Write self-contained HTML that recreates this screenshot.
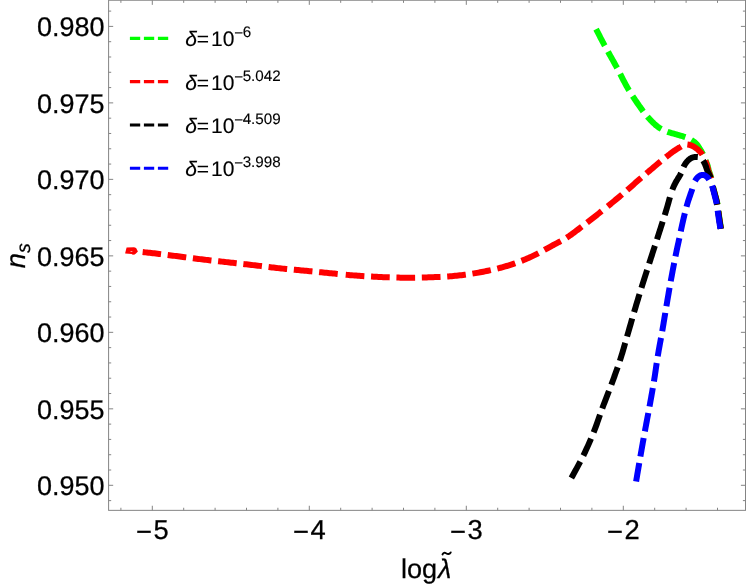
<!DOCTYPE html>
<html><head><meta charset="utf-8"><style>
html,body{margin:0;padding:0;background:#fff;}
svg{display:block;font-family:"Liberation Sans",sans-serif;text-rendering:geometricPrecision;will-change:transform;}
</style></head><body>
<svg width="747" height="585" viewBox="0 0 747 585">
<rect width="747" height="585" fill="#fff"/>
<g>
<path d="M595.50 28.00 L596.05 29.06 L596.59 30.10 L597.12 31.13 L597.65 32.16 L598.17 33.17 L598.69 34.19 L599.21 35.21 L599.74 36.23 L600.27 37.27 L600.81 38.31 L601.37 39.38 L601.94 40.47 L602.52 41.58 L603.12 42.72 L603.75 43.89 L604.40 45.10 L605.08 46.35 L605.78 47.63 L606.50 48.94 L607.24 50.28 L608.00 51.64 L608.77 53.02 L609.55 54.42 L610.34 55.84 L611.14 57.26 L611.95 58.70 L612.75 60.14 L613.55 61.58 L614.35 63.02 L615.14 64.46 L615.93 65.88 L616.70 67.30 L617.46 68.72 L618.22 70.14 L618.97 71.58 L619.71 73.02 L620.46 74.47 L621.20 75.92 L621.94 77.37 L622.69 78.82 L623.44 80.28 L624.19 81.72 L624.95 83.16 L625.72 84.59 L626.50 86.01 L627.28 87.42 L628.09 88.82 L628.90 90.20 L629.75 91.59 L630.64 93.02 L631.56 94.48 L632.52 95.95 L633.49 97.42 L634.47 98.90 L635.45 100.35 L636.43 101.79 L637.39 103.19 L638.33 104.54 L639.24 105.85 L640.11 107.08 L640.92 108.25 L641.68 109.33 L642.38 110.32 L643.00 111.20 L643.54 111.97 L644.02 112.63 L644.43 113.19 L644.79 113.66 L645.10 114.06 L645.36 114.40 L645.60 114.68 L645.81 114.92 L646.01 115.13 L646.19 115.32 L646.37 115.50 L646.56 115.69 L646.76 115.89 L646.97 116.12 L647.22 116.38 L647.50 116.70 L647.80 117.05 L648.11 117.40 L648.43 117.75 L648.75 118.11 L649.07 118.47 L649.39 118.83 L649.72 119.19 L650.05 119.54 L650.38 119.90 L650.71 120.25 L651.03 120.59 L651.35 120.93 L651.67 121.26 L651.99 121.58 L652.30 121.90 L652.60 122.20 L652.90 122.49 L653.19 122.78 L653.49 123.06 L653.78 123.34 L654.06 123.60 L654.35 123.87 L654.63 124.12 L654.91 124.38 L655.19 124.62 L655.47 124.86 L655.74 125.10 L656.02 125.33 L656.29 125.55 L656.56 125.77 L656.83 125.99 L657.10 126.20 L657.36 126.40 L657.62 126.60 L657.86 126.78 L658.10 126.96 L658.34 127.13 L658.57 127.30 L658.80 127.46 L659.04 127.62 L659.28 127.77 L659.52 127.93 L659.77 128.09 L660.03 128.24 L660.30 128.40 L660.58 128.56 L660.88 128.73 L661.20 128.90 L661.51 129.07 L661.80 129.24 L662.08 129.40 L662.35 129.55 L662.62 129.71 L662.90 129.87 L663.18 130.03 L663.49 130.19 L663.83 130.35 L664.20 130.53 L664.61 130.71 L665.06 130.90 L665.58 131.10 L666.15 131.32 L666.79 131.55 L667.50 131.80 L668.32 132.07 L669.25 132.36 L670.29 132.68 L671.41 133.01 L672.60 133.36 L673.84 133.72 L675.12 134.08 L676.41 134.45 L677.70 134.82 L678.97 135.18 L680.21 135.54 L681.40 135.89 L682.52 136.22 L683.55 136.54 L684.49 136.83 L685.30 137.10 L686.01 137.35 L686.64 137.57 L687.20 137.78 L687.69 137.97 L688.13 138.15 L688.53 138.31 L688.88 138.48 L689.20 138.63 L689.50 138.78 L689.77 138.94 L690.04 139.09 L690.31 139.25 L690.58 139.42 L690.86 139.60 L691.17 139.79 L691.50 140.00 L691.85 140.22 L692.19 140.44 L692.53 140.66 L692.86 140.89 L693.19 141.12 L693.52 141.36 L693.84 141.60 L694.16 141.84 L694.47 142.09 L694.77 142.35 L695.07 142.61 L695.37 142.88 L695.66 143.15 L695.95 143.43 L696.23 143.71 L696.50 144.00 L696.77 144.30 L697.03 144.61 L697.29 144.94 L697.54 145.27 L697.79 145.61 L698.03 145.96 L698.26 146.31 L698.49 146.66 L698.72 147.02 L698.94 147.37 L699.16 147.72 L699.38 148.07 L699.59 148.42 L699.79 148.75 L700.00 149.08 L700.20 149.40 L700.40 149.71 L700.59 150.00 L700.77 150.29 L700.95 150.57 L701.12 150.85 L701.29 151.12 L701.46 151.39 L701.62 151.66 L701.78 151.93 L701.94 152.20 L702.10 152.48 L702.26 152.76 L702.41 153.06 L702.57 153.36 L702.74 153.67 L702.90 154.00 L703.07 154.34 L703.23 154.70 L703.40 155.07 L703.57 155.45 L703.74 155.84 L703.91 156.23 L704.08 156.63 L704.25 157.03 L704.42 157.43 L704.58 157.83 L704.74 158.23 L704.90 158.62 L705.06 159.01 L705.21 159.38 L705.36 159.75 L705.50 160.10 L705.64 160.44 L705.77 160.76 L705.90 161.08 L706.03 161.38 L706.16 161.68 L706.28 161.98 L706.40 162.27 L706.51 162.56 L706.63 162.84 L706.74 163.13 L706.85 163.43 L706.96 163.73 L707.07 164.03 L707.18 164.34 L707.29 164.67 L707.40 165.00 L707.51 165.34 L707.61 165.69 L707.71 166.05 L707.81 166.41 L707.91 166.77 L708.00 167.14 L708.09 167.52 L708.19 167.89 L708.28 168.27 L708.38 168.66 L708.47 169.04 L708.57 169.43 L708.67 169.82 L708.78 170.21 L708.89 170.61 L709.00 171.00 L709.12 171.39 L709.24 171.78 L709.37 172.18 L709.50 172.57 L709.63 172.96 L709.77 173.36 L709.91 173.75 L710.04 174.16 L710.18 174.56 L710.32 174.97 L710.46 175.39 L710.59 175.82 L710.72 176.25 L710.85 176.69 L710.98 177.14 L711.10 177.60 L711.22 178.07 L711.32 178.54 L711.43 179.03 L711.53 179.51 L711.63 180.01 L711.72 180.51 L711.82 181.02 L711.91 181.53 L712.01 182.05 L712.11 182.58 L712.21 183.12 L712.23 183.21" fill="none" stroke="#00ff00" stroke-width="6" stroke-dasharray="18.7 6.7" stroke-dashoffset="24.04"/>
<path d="M712.23 183.21 L712.31 183.66 L712.43 184.21 L712.54 184.76 L712.67 185.33 L712.80 185.90 L712.94 186.49 L713.10 187.10 L713.26 187.72 L713.43 188.36 L713.60 189.02 L713.78 189.68 L713.96 190.34 L714.14 191.01 L714.33 191.68 L714.51 192.34 L714.69 192.99 L714.86 193.63 L715.04 194.25 L715.20 194.86 L715.35 195.44 L715.50 196.00 L715.64 196.53 L715.77 197.05 L715.90 197.54 L716.03 198.02 L716.15 198.48 L716.27 198.93 L716.39 199.38 L716.50 199.81 L716.61 200.24 L716.72 200.67 L716.82 201.10 L716.92 201.53 L717.02 201.96 L717.11 202.40 L717.21 202.84 L717.30 203.30 L717.39 203.76 L717.47 204.22 L717.55 204.67 L717.62 205.12 L717.69 205.57 L717.75 206.02 L717.82 206.48 L717.88 206.93 L717.94 207.39 L718.00 207.85 L718.06 208.32 L718.13 208.80 L718.19 209.29 L718.26 209.78 L718.33 210.28 L718.40 210.80 L718.48 211.33 L718.55 211.87 L718.63 212.43 L718.71 212.99 L718.79 213.56 L718.87 214.14 L718.95 214.73 L719.03 215.32 L719.11 215.91 L719.20 216.50 L719.28 217.10 L719.36 217.69 L719.45 218.28 L719.53 218.86 L719.62 219.43 L719.70 220.00 L719.78 220.56 L719.87 221.12 L719.96 221.67 L720.04 222.23 L720.13 222.78 L720.22 223.33 L720.31 223.88 L720.39 224.43 L720.48 224.97 L720.57 225.52 L720.66 226.06 L720.75 226.61 L720.84 227.16 L720.92 227.70 L721.01 228.25 L721.10 228.80" fill="none" stroke="#00ff00" stroke-width="6" stroke-dasharray="18.7 6.7" stroke-dashoffset="22.05"/>
<path d="M142.66 252.08 L144.06 252.23 L145.48 252.37 L146.93 252.52 L148.38 252.68 L149.84 252.84 L151.30 253.00 L152.78 253.17 L154.32 253.35 L155.89 253.54 L157.50 253.73 L159.15 253.93 L160.82 254.14 L162.52 254.35 L164.23 254.56 L165.96 254.78 L167.69 255.00 L169.43 255.22 L171.17 255.44 L172.90 255.66 L174.62 255.87 L176.32 256.09 L178.00 256.30 L179.67 256.51 L181.36 256.73 L183.05 256.94 L184.75 257.16 L186.46 257.38 L188.16 257.60 L189.86 257.82 L191.56 258.04 L193.25 258.26 L194.94 258.48 L196.61 258.69 L198.26 258.90 L199.90 259.11 L201.53 259.31 L203.12 259.51 L204.70 259.70 L206.24 259.88 L207.75 260.06 L209.23 260.23 L210.68 260.40 L212.12 260.56 L213.54 260.72 L214.95 260.87 L216.35 261.02 L217.75 261.18 L219.16 261.33 L220.58 261.48 L222.02 261.64 L223.47 261.80 L224.95 261.96 L226.46 262.13 L228.00 262.30 L229.58 262.48 L231.19 262.66 L232.82 262.84 L234.48 263.02 L236.15 263.21 L237.84 263.40 L239.54 263.58 L241.24 263.78 L242.95 263.97 L244.66 264.16 L246.37 264.35 L248.06 264.54 L249.75 264.73 L251.42 264.92 L253.07 265.11 L254.70 265.30 L256.31 265.49 L257.91 265.68 L259.49 265.87 L261.07 266.06 L262.64 266.26 L264.20 266.45 L265.76 266.64 L267.31 266.84 L268.85 267.03 L270.40 267.22 L271.94 267.41 L273.49 267.59 L275.04 267.77 L276.59 267.95 L278.14 268.13 L279.70 268.30 L281.26 268.47 L282.81 268.63 L284.36 268.78 L285.91 268.94 L287.46 269.09 L289.00 269.24 L290.55 269.38 L292.10 269.52 L293.65 269.67 L295.21 269.81 L296.77 269.96 L298.34 270.10 L299.91 270.25 L301.50 270.39 L303.09 270.55 L304.70 270.70 L306.32 270.86 L307.97 271.02 L309.63 271.18 L311.31 271.35 L313.00 271.51 L314.70 271.68 L316.40 271.85 L318.10 272.01 L319.80 272.18 L321.49 272.35 L323.17 272.51 L324.84 272.67 L326.49 272.83 L328.12 272.99 L329.72 273.15 L331.30 273.30 L332.85 273.45 L334.37 273.60 L335.86 273.75 L337.33 273.89 L338.79 274.04 L340.23 274.19 L341.66 274.33 L342.59 274.42" fill="none" stroke="#ff0000" stroke-width="6" stroke-dasharray="18.7 6.7" stroke-dashoffset="0.21"/>
<path d="M342.59 274.42 L343.08 274.47 L344.50 274.61 L345.93 274.74 L347.35 274.88 L348.79 275.01 L350.24 275.14 L351.71 275.26 L353.19 275.38 L354.70 275.50 L356.23 275.61 L357.77 275.73 L359.33 275.84 L360.90 275.94 L362.48 276.05 L364.06 276.15 L365.65 276.25 L367.25 276.34 L368.85 276.44 L370.45 276.53 L372.05 276.61 L373.65 276.70 L375.25 276.78 L376.84 276.86 L378.42 276.93 L380.00 277.00 L381.57 277.07 L383.14 277.13 L384.71 277.20 L386.27 277.26 L387.83 277.31 L389.40 277.37 L390.96 277.42 L392.52 277.47 L394.08 277.51 L395.64 277.55 L397.20 277.59 L398.76 277.62 L400.32 277.65 L401.88 277.67 L403.44 277.69 L405.00 277.70 L406.56 277.71 L408.11 277.71 L409.66 277.71 L411.21 277.71 L412.76 277.70 L414.30 277.68 L415.85 277.67 L417.39 277.64 L418.94 277.62 L420.50 277.59 L422.06 277.55 L423.63 277.51 L425.21 277.46 L426.79 277.41 L428.39 277.36 L430.00 277.30 L431.63 277.24 L433.27 277.17 L434.93 277.10 L436.60 277.03 L438.28 276.96 L439.96 276.88 L441.66 276.80 L443.35 276.71 L445.04 276.61 L446.74 276.51 L448.42 276.40 L450.10 276.28 L451.77 276.15 L453.43 276.01 L455.07 275.86 L456.70 275.70 L458.31 275.53 L459.91 275.35 L461.49 275.17 L463.07 274.98 L464.64 274.78 L466.20 274.57 L467.76 274.35 L469.31 274.12 L470.85 273.89 L472.40 273.65 L473.94 273.40 L475.49 273.14 L477.04 272.87 L478.59 272.59 L480.14 272.30 L481.70 272.00 L483.27 271.69 L484.84 271.38 L486.41 271.06 L487.99 270.73 L489.57 270.39 L491.15 270.04 L492.73 269.68 L494.31 269.31 L495.88 268.94 L497.45 268.55 L499.01 268.15 L500.57 267.74 L502.12 267.32 L503.66 266.89 L505.18 266.45 L506.70 266.00 L508.20 265.54 L509.69 265.07 L511.17 264.59 L512.64 264.10 L514.10 263.60 L515.56 263.09 L517.01 262.57 L518.45 262.04 L519.89 261.50 L521.33 260.94 L522.77 260.38 L524.21 259.79 L525.65 259.19 L527.09 258.58 L528.54 257.95 L530.00 257.30 L531.48 256.62 L532.99 255.90 L534.52 255.15 L536.08 254.36 L537.64 253.56 L539.21 252.74 L540.77 251.90 L542.32 251.07 L543.85 250.24 L545.35 249.41 L546.82 248.60 L548.25 247.81 L549.63 247.05 L550.95 246.33 L552.21 245.64 L553.40 245.00 L554.51 244.41 L555.54 243.86 L556.51 243.36 L557.42 242.88 L558.28 242.44 L559.10 242.01 L559.88 241.60 L560.64 241.20 L561.39 240.80 L562.12 240.40 L562.85 239.99 L563.59 239.57 L564.35 239.12 L565.13 238.65 L565.95 238.14 L566.80 237.60 L567.67 237.03 L568.54 236.45 L569.40 235.87 L570.26 235.27 L571.12 234.67 L571.98 234.05 L572.85 233.42 L573.73 232.77 L574.63 232.10 L575.53 231.42 L576.46 230.72 L577.41 230.00 L578.39 229.26 L579.40 228.50 L580.43 227.71 L581.50 226.90 L582.61 226.06 L583.75 225.18 L584.93 224.28 L586.15 223.34 L587.38 222.39 L588.64 221.41 L589.92 220.42 L591.21 219.41 L592.52 218.39 L593.83 217.36 L595.14 216.33 L596.45 215.29 L597.75 214.26 L599.05 213.23 L600.33 212.21 L601.60 211.20 L602.86 210.19 L604.05 209.24" fill="none" stroke="#ff0000" stroke-width="6" stroke-dasharray="18.7 6.7" stroke-dashoffset="22.26"/>
<path d="M604.05 209.24 L604.12 209.18 L605.39 208.17 L606.66 207.15 L607.93 206.12 L609.20 205.10 L610.47 204.07 L611.74 203.04 L613.00 202.01 L614.27 200.97 L615.52 199.94 L616.77 198.91 L618.02 197.88 L619.25 196.85 L620.48 195.82 L621.70 194.80 L622.91 193.78 L624.10 192.76 L625.28 191.74 L626.45 190.73 L627.61 189.71 L628.77 188.70 L629.92 187.68 L631.07 186.67 L632.22 185.65 L633.37 184.64 L634.52 183.62 L635.68 182.60 L636.85 181.58 L638.02 180.56 L639.20 179.53 L640.40 178.50 L641.62 177.46 L642.87 176.39 L644.14 175.30 L645.44 174.20 L646.74 173.09 L648.05 171.98 L649.36 170.87 L650.67 169.76 L651.96 168.67 L653.24 167.60 L654.49 166.54 L655.72 165.52 L656.91 164.53 L658.05 163.57 L659.15 162.66 L660.20 161.80 L661.20 160.98 L662.17 160.19 L663.11 159.42 L664.01 158.69 L664.89 157.98 L665.74 157.30 L666.56 156.64 L667.36 156.01 L668.13 155.40 L668.88 154.82 L669.61 154.25 L670.32 153.70 L671.02 153.18 L671.69 152.67 L672.35 152.18 L673.00 151.70 L673.63 151.25 L674.23 150.82 L674.82 150.42 L675.38 150.04 L675.91 149.69 L676.43 149.36 L676.93 149.05 L677.41 148.75 L677.88 148.47 L678.32 148.20 L678.75 147.95 L679.17 147.71 L679.57 147.47 L679.96 147.24 L680.34 147.02 L680.70 146.80 L681.05 146.59 L681.37 146.39 L681.66 146.21 L681.94 146.03 L682.20 145.87 L682.44 145.72 L682.66 145.59 L682.88 145.46 L683.09 145.34 L683.29 145.23 L683.49 145.12 L683.68 145.03 L683.88 144.94 L684.08 144.85 L684.29 144.77 L684.50 144.70 L684.71 144.63 L684.92 144.57 L685.11 144.52 L685.30 144.48 L685.49 144.44 L685.67 144.41 L685.86 144.39 L686.04 144.38 L686.22 144.37 L686.41 144.37 L686.60 144.37 L686.80 144.39 L687.01 144.41 L687.23 144.43 L687.46 144.46 L687.70 144.50 L687.96 144.54 L688.22 144.59 L688.50 144.65 L688.78 144.71 L689.08 144.78 L689.37 144.86 L689.68 144.94 L689.99 145.03 L690.30 145.13 L690.62 145.23 L690.93 145.34 L691.25 145.46 L691.56 145.58 L691.88 145.71 L692.19 145.85 L692.50 146.00 L692.81 146.15 L693.12 146.31 L693.43 146.48 L693.74 146.65 L694.05 146.83 L694.36 147.02 L694.68 147.21 L694.99 147.41 L695.31 147.62 L695.62 147.84 L695.94 148.06 L696.25 148.29 L696.57 148.53 L696.88 148.78 L697.19 149.04 L697.50 149.30 L697.81 149.58 L698.13 149.87 L698.46 150.17 L698.79 150.48 L699.12 150.80 L699.45 151.13 L699.77 151.47 L700.10 151.81 L700.42 152.16 L700.74 152.51 L701.04 152.86 L701.34 153.21 L701.63 153.57 L701.90 153.91 L702.16 154.26 L702.40 154.60 L702.63 154.94 L702.84 155.28 L703.04 155.63 L703.23 155.97 L703.41 156.32 L703.57 156.67 L703.73 157.02 L703.89 157.37 L704.03 157.72 L704.18 158.07 L704.32 158.42 L704.45 158.76 L704.59 159.10 L704.72 159.44 L704.86 159.77 L705.00 160.10 L705.14 160.42 L705.27 160.73 L705.40 161.04 L705.53 161.34 L705.66 161.64 L705.78 161.93 L705.90 162.23 L706.01 162.52 L706.13 162.81 L706.24 163.11 L706.35 163.41 L706.46 163.71 L706.57 164.02 L706.68 164.34 L706.79 164.66 L706.90 165.00 L707.01 165.34 L707.11 165.69 L707.21 166.05 L707.31 166.41 L707.40 166.77 L707.50 167.14 L707.59 167.52 L707.68 167.89 L707.77 168.27 L707.87 168.66 L707.97 169.04 L708.06 169.43 L708.17 169.82 L708.27 170.21 L708.38 170.61 L708.50 171.00 L708.62 171.39 L708.75 171.78 L708.88 172.18 L709.01 172.57 L709.15 172.96 L709.29 173.36 L709.44 173.75 L709.58 174.16 L709.73 174.56 L709.87 174.97 L710.01 175.39 L710.16 175.82 L710.30 176.25 L710.44 176.69 L710.57 177.14 L710.70 177.60 L710.83 178.07 L710.95 178.54 L711.06 179.03 L711.18 179.51 L711.29 180.01 L711.40 180.51 L711.51 181.02 L711.62 181.53 L711.73 182.05 L711.84 182.58 L711.96 183.12 L711.98 183.23" fill="none" stroke="#ff0000" stroke-width="6" stroke-dasharray="18.7 6.7" stroke-dashoffset="20.77"/>
<path d="M711.98 183.23 L712.08 183.66 L712.20 184.21 L712.33 184.76 L712.46 185.33 L712.60 185.90 L712.75 186.49 L712.91 187.10 L713.07 187.72 L713.24 188.36 L713.41 189.02 L713.59 189.68 L713.77 190.34 L713.96 191.01 L714.14 191.68 L714.32 192.34 L714.50 192.99 L714.67 193.63 L714.84 194.25 L715.00 194.86 L715.15 195.44 L715.30 196.00 L715.44 196.53 L715.57 197.05 L715.70 197.54 L715.83 198.02 L715.95 198.48 L716.07 198.93 L716.19 199.38 L716.30 199.81 L716.41 200.24 L716.52 200.67 L716.62 201.10 L716.72 201.53 L716.82 201.96 L716.91 202.40 L717.01 202.84 L717.10 203.30 L717.19 203.76 L717.27 204.22 L717.35 204.67 L717.42 205.12 L717.49 205.57 L717.55 206.02 L717.62 206.48 L717.68 206.93 L717.74 207.39 L717.80 207.85 L717.86 208.32 L717.93 208.80 L717.99 209.29 L718.06 209.78 L718.13 210.28 L718.20 210.80 L718.28 211.33 L718.35 211.87 L718.43 212.43 L718.51 212.99 L718.59 213.56 L718.67 214.14 L718.75 214.73 L718.83 215.32 L718.91 215.91 L719.00 216.50 L719.08 217.10 L719.16 217.69 L719.25 218.28 L719.33 218.86 L719.42 219.43 L719.50 220.00 L719.58 220.56 L719.67 221.12 L719.76 221.67 L719.84 222.23 L719.93 222.78 L720.02 223.33 L720.11 223.88 L720.19 224.43 L720.28 224.97 L720.37 225.52 L720.46 226.06 L720.55 226.61 L720.64 227.16 L720.72 227.70 L720.81 228.25 L720.90 228.80" fill="none" stroke="#ff0000" stroke-width="6" stroke-dasharray="18.7 6.7" stroke-dashoffset="22.05"/>
<path d="M125.2 252.9L126.6 247.4L134.1 247.2L136.1 248L137.9 251.4L135.7 253.7L134.1 254.7L132.1 254.5L131.7 254.1L125.2 253.5ZM130.5 251.1L132.4 251.4L132.4 252L130.7 251.7Z" fill="#ff0000" fill-rule="evenodd"/>
<path d="M570.90 478.90 L571.69 477.43 L572.49 475.95 L573.29 474.48 L574.10 473.01 L574.91 471.54 L575.72 470.06 L576.53 468.59 L577.33 467.12 L578.13 465.65 L578.93 464.17 L579.72 462.70 L580.50 461.22 L581.27 459.74 L582.03 458.26 L582.77 456.78 L583.50 455.30 L584.22 453.81 L584.93 452.33 L585.62 450.84 L586.31 449.35 L587.00 447.86 L587.67 446.37 L588.34 444.88 L588.99 443.38 L589.64 441.89 L590.29 440.39 L590.92 438.89 L591.55 437.40 L592.17 435.90 L592.79 434.40 L593.40 432.90 L594.00 431.40 L594.59 429.90 L595.17 428.40 L595.74 426.89 L596.29 425.38 L596.84 423.87 L597.38 422.36 L597.91 420.85 L598.44 419.34 L598.96 417.83 L599.49 416.32 L600.01 414.82 L600.54 413.31 L601.07 411.80 L601.61 410.30 L602.15 408.80 L602.70 407.30 L603.26 405.81 L603.82 404.31 L604.39 402.83 L604.96 401.34 L605.53 399.86 L606.11 398.38 L606.68 396.90 L607.26 395.42 L607.83 393.94 L608.41 392.46 L608.98 390.97 L609.55 389.49 L610.12 388.00 L610.68 386.50 L611.24 385.00 L611.80 383.50 L612.35 381.99 L612.91 380.47 L613.47 378.94 L614.03 377.41 L614.58 375.88 L615.14 374.34 L615.69 372.80 L616.24 371.26 L616.79 369.72 L617.33 368.18 L617.86 366.65 L618.39 365.12 L618.91 363.60 L619.41 362.09 L619.91 360.59 L620.40 359.10 L620.87 357.62 L621.33 356.16 L621.78 354.71 L622.22 353.27 L622.65 351.84 L623.07 350.41 L623.48 348.98 L623.89 347.56 L624.30 346.14 L624.71 344.72 L625.11 343.29 L625.52 341.85 L625.93 340.41 L626.35 338.95 L626.77 337.48 L627.20 336.00 L627.63 334.50 L628.07 333.00 L628.51 331.48 L628.94 329.96 L629.38 328.43 L629.82 326.89 L630.26 325.35 L630.71 323.80 L631.15 322.25 L631.60 320.70 L632.04 319.15 L632.49 317.59 L632.94 316.04 L633.39 314.49 L633.84 312.94 L634.30 311.40 L634.76 309.86 L635.22 308.31 L635.68 306.77 L636.14 305.22 L636.61 303.67 L637.07 302.12 L637.54 300.57 L638.01 299.02 L638.48 297.48 L638.96 295.93 L639.43 294.39 L639.90 292.84 L640.38 291.30 L640.85 289.76 L641.33 288.23 L641.80 286.70 L642.28 285.17 L642.75 283.65 L643.23 282.13 L643.71 280.62 L644.18 279.11 L644.66 277.60 L645.14 276.09 L645.62 274.58 L646.11 273.07 L646.59 271.57 L647.07 270.06 L647.56 268.55 L648.04 267.04 L648.53 265.53 L649.01 264.02 L649.50 262.50 L649.99 260.98 L650.48 259.47 L650.96 257.96 L651.45 256.45 L651.94 254.95 L652.43 253.44 L652.92 251.93 L653.41 250.42 L653.91 248.90 L654.40 247.38 L654.89 245.86 L655.39 244.32 L655.89 242.78 L656.39 241.23 L656.89 239.67 L657.40 238.10 L657.91 236.51 L658.43 234.90 L658.95 233.28 L659.47 231.64 L660.00 229.99 L660.53 228.33 L661.06 226.67 L661.59 225.01 L662.12 223.34 L662.65 221.69 L663.17 220.04 L663.69 218.40 L664.21 216.77 L664.71 215.16 L665.21 213.57 L665.70 212.00 L666.18 210.44 L666.65 208.86 L667.11 207.28 L667.56 205.70 L668.00 204.12 L668.45 202.55 L668.88 200.99 L669.32 199.44 L669.75 197.92 L670.19 196.43 L670.63 194.97 L671.07 193.54 L671.52 192.16 L671.76 191.45" fill="none" stroke="#000000" stroke-width="6" stroke-dasharray="18.7 6.7" stroke-dashoffset="24.39"/>
<path d="M671.76 191.45 L671.97 190.82 L672.43 189.53 L672.90 188.30 L673.39 187.12 L673.89 185.98 L674.42 184.88 L674.95 183.81 L675.50 182.79 L676.04 181.80 L676.59 180.84 L677.14 179.92 L677.68 179.03 L678.20 178.16 L678.71 177.32 L679.20 176.51 L679.67 175.73 L680.11 174.96 L680.52 174.22 L680.90 173.50 L681.24 172.81 L681.54 172.15 L681.82 171.54 L682.07 170.95 L682.29 170.40 L682.50 169.87 L682.69 169.37 L682.87 168.89 L683.04 168.43 L683.21 167.98 L683.37 167.55 L683.54 167.13 L683.71 166.72 L683.89 166.31 L684.09 165.91 L684.30 165.50 L684.52 165.10 L684.74 164.72 L684.97 164.35 L685.19 163.99 L685.41 163.65 L685.64 163.31 L685.87 162.99 L686.09 162.68 L686.32 162.38 L686.56 162.09 L686.79 161.81 L687.03 161.53 L687.26 161.26 L687.51 161.00 L687.75 160.75 L688.00 160.50 L688.25 160.26 L688.50 160.02 L688.75 159.79 L689.01 159.58 L689.27 159.36 L689.52 159.16 L689.79 158.97 L690.05 158.78 L690.32 158.60 L690.59 158.43 L690.86 158.27 L691.14 158.12 L691.42 157.98 L691.71 157.84 L692.00 157.72 L692.30 157.60 L692.61 157.49 L692.93 157.39 L693.27 157.31 L693.61 157.23 L693.96 157.16 L694.32 157.10 L694.68 157.04 L695.04 157.00 L695.39 156.96 L695.74 156.93 L696.09 156.91 L696.42 156.90 L696.74 156.89 L697.05 156.89 L697.33 156.89 L697.60 156.90 L697.85 156.92 L698.08 156.94 L698.30 156.97 L698.50 157.02 L698.70 157.06 L698.88 157.12 L699.06 157.18 L699.23 157.25 L699.39 157.32 L699.55 157.41 L699.70 157.49 L699.86 157.58 L700.02 157.68 L700.17 157.78 L700.33 157.89 L700.50 158.00 L700.67 158.11 L700.83 158.23 L701.00 158.35 L701.16 158.48 L701.32 158.61 L701.48 158.75 L701.63 158.89 L701.79 159.04 L701.94 159.19 L702.09 159.35 L702.25 159.52 L702.40 159.70 L702.55 159.89 L702.70 160.08 L702.85 160.29 L703.00 160.50 L703.15 160.72 L703.30 160.96 L703.45 161.20 L703.59 161.45 L703.74 161.71 L703.88 161.98 L704.03 162.25 L704.17 162.53 L704.31 162.82 L704.45 163.11 L704.60 163.42 L704.74 163.72 L704.88 164.03 L705.02 164.35 L705.16 164.67 L705.30 165.00 L705.44 165.33 L705.57 165.67 L705.71 166.02 L705.84 166.38 L705.97 166.74 L706.10 167.11 L706.23 167.49 L706.36 167.87 L706.49 168.25 L706.62 168.64 L706.76 169.03 L706.90 169.42 L707.04 169.82 L707.19 170.21 L707.34 170.61 L707.50 171.00 L707.67 171.39 L707.84 171.78 L708.03 172.18 L708.22 172.57 L708.41 172.96 L708.61 173.36 L708.81 173.75 L709.01 174.16 L709.21 174.56 L709.41 174.97 L709.61 175.39 L709.80 175.82 L709.99 176.25 L710.17 176.69 L710.34 177.14 L710.50 177.60 L710.65 178.07 L710.79 178.54 L710.93 179.03 L711.05 179.51 L711.18 180.01 L711.29 180.51 L711.41 181.02 L711.52 181.53 L711.63 182.05 L711.74 182.58 L711.86 183.12 L711.88 183.23" fill="none" stroke="#000000" stroke-width="6" stroke-dasharray="18.7 6.7" stroke-dashoffset="23.55"/>
<path d="M711.88 183.23 L711.97 183.66 L712.10 184.21 L712.22 184.76 L712.36 185.33 L712.50 185.90 L712.65 186.49 L712.81 187.10 L712.98 187.72 L713.15 188.36 L713.32 189.02 L713.50 189.68 L713.68 190.34 L713.86 191.01 L714.04 191.68 L714.22 192.34 L714.40 192.99 L714.57 193.63 L714.74 194.25 L714.90 194.86 L715.05 195.44 L715.20 196.00 L715.34 196.53 L715.47 197.05 L715.60 197.54 L715.73 198.02 L715.85 198.48 L715.97 198.93 L716.09 199.38 L716.20 199.81 L716.31 200.24 L716.42 200.67 L716.52 201.10 L716.62 201.53 L716.72 201.96 L716.81 202.40 L716.91 202.84 L717.00 203.30 L717.09 203.76 L717.17 204.22 L717.25 204.67 L717.32 205.12 L717.39 205.57 L717.45 206.02 L717.52 206.48 L717.58 206.93 L717.64 207.39 L717.70 207.85 L717.76 208.32 L717.83 208.80 L717.89 209.29 L717.96 209.78 L718.03 210.28 L718.10 210.80 L718.18 211.33 L718.25 211.87 L718.33 212.43 L718.41 212.99 L718.49 213.56 L718.57 214.14 L718.65 214.73 L718.73 215.32 L718.81 215.91 L718.90 216.50 L718.98 217.10 L719.06 217.69 L719.15 218.28 L719.23 218.86 L719.32 219.43 L719.40 220.00 L719.48 220.56 L719.57 221.12 L719.66 221.67 L719.74 222.23 L719.83 222.78 L719.92 223.33 L720.01 223.88 L720.09 224.43 L720.18 224.97 L720.27 225.52 L720.36 226.06 L720.45 226.61 L720.54 227.16 L720.62 227.70 L720.71 228.25 L720.80 228.80" fill="none" stroke="#000000" stroke-width="6" stroke-dasharray="18.7 6.7" stroke-dashoffset="22.05"/>
<path d="M636.00 482.10 L636.28 480.46 L636.56 478.81 L636.84 477.16 L637.12 475.51 L637.40 473.86 L637.68 472.21 L637.96 470.56 L638.24 468.91 L638.52 467.26 L638.81 465.62 L639.09 463.97 L639.37 462.33 L639.65 460.69 L639.93 459.06 L640.22 457.43 L640.50 455.80 L640.78 454.18 L641.07 452.55 L641.36 450.93 L641.64 449.31 L641.93 447.69 L642.22 446.07 L642.51 444.46 L642.79 442.84 L643.08 441.24 L643.37 439.63 L643.66 438.03 L643.95 436.43 L644.24 434.84 L644.52 433.26 L644.81 431.67 L645.10 430.10 L645.39 428.53 L645.68 426.98 L645.97 425.43 L646.25 423.88 L646.54 422.35 L646.83 420.82 L647.12 419.29 L647.41 417.76 L647.70 416.24 L647.99 414.71 L648.28 413.19 L648.56 411.66 L648.85 410.13 L649.13 408.59 L649.42 407.05 L649.70 405.50 L649.98 403.94 L650.26 402.39 L650.55 400.82 L650.83 399.26 L651.11 397.69 L651.39 396.12 L651.67 394.55 L651.95 392.98 L652.23 391.41 L652.50 389.83 L652.78 388.26 L653.05 386.69 L653.31 385.11 L653.58 383.54 L653.84 381.97 L654.10 380.40 L654.35 378.83 L654.60 377.26 L654.84 375.69 L655.08 374.12 L655.31 372.56 L655.54 370.99 L655.77 369.42 L655.99 367.85 L656.22 366.28 L656.45 364.71 L656.68 363.14 L656.91 361.57 L657.15 360.01 L657.40 358.44 L657.64 356.87 L657.90 355.30 L658.16 353.73 L658.43 352.16 L658.70 350.60 L658.98 349.03 L659.26 347.46 L659.55 345.89 L659.84 344.32 L660.12 342.76 L660.41 341.19 L660.70 339.62 L660.99 338.05 L661.28 336.48 L661.56 334.91 L661.85 333.34 L662.13 331.77 L662.40 330.20 L662.67 328.63 L662.94 327.05 L663.20 325.47 L663.47 323.90 L663.73 322.32 L663.99 320.74 L664.25 319.16 L664.51 317.58 L664.77 316.00 L665.03 314.42 L665.29 312.84 L665.55 311.27 L665.81 309.70 L666.07 308.13 L666.34 306.56 L666.60 305.00 L666.87 303.44 L667.13 301.89 L667.39 300.34 L667.66 298.79 L667.92 297.24 L668.19 295.70 L668.45 294.15 L668.72 292.61 L668.99 291.07 L669.25 289.53 L669.52 287.99 L669.79 286.46 L670.07 284.92 L670.34 283.38 L670.62 281.84 L670.90 280.30 L671.18 278.75 L671.47 277.18 L671.77 275.59 L672.07 273.99 L672.37 272.39 L672.67 270.79 L672.97 269.19 L673.27 267.59 L673.58 266.01 L673.88 264.45 L674.18 262.91 L674.47 261.40 L674.76 259.91 L675.05 258.47 L675.33 257.06 L675.60 255.70 L675.87 254.38 L676.13 253.11 L676.39 251.87 L676.64 250.66 L676.89 249.48 L677.14 248.33 L677.38 247.20 L677.62 246.09 L677.86 245.00 L678.10 243.92 L678.34 242.85 L678.57 241.78 L678.80 240.72 L679.04 239.65 L679.27 238.58 L679.50 237.50 L679.73 236.42 L679.95 235.36 L680.17 234.31 L680.38 233.27 L680.60 232.23 L680.81 231.21 L681.02 230.19 L681.23 229.18 L681.43 228.16 L681.65 227.15 L681.86 226.14 L682.08 225.12 L682.30 224.10 L682.53 223.07 L682.76 222.04 L683.00 221.00 L683.25 219.95 L683.49 218.89 L683.75 217.81 L684.00 216.74 L684.26 215.66 L684.52 214.57 L684.79 213.49 L685.06 212.41 L685.33 211.33 L685.60 210.25 L685.88 209.18 L686.16 208.12 L686.44 207.07 L686.72 206.03 L687.01 205.01 L687.30 204.00 L687.60 202.99 L687.91 201.98 L688.23 200.96 L688.55 199.95 L688.89 198.93 L689.22 197.92 L689.56 196.92 L689.90 195.94 L690.23 194.97 L690.56 194.02 L690.88 193.10 L691.20 192.21 L691.49 191.35 L691.78 190.53 L692.05 189.74 L692.30 189.00 L692.53 188.30 L692.74 187.64 L692.93 187.02 L693.11 186.43 L693.28 185.87 L693.43 185.34 L693.58 184.84 L693.72 184.36 L693.87 183.89 L694.01 183.45 L694.06 183.29" fill="none" stroke="#0000ff" stroke-width="6" stroke-dasharray="18.7 6.7" stroke-dashoffset="24.75"/>
<path d="M694.06 183.29 L694.15 183.02 L694.30 182.60 L694.46 182.20 L694.63 181.79 L694.81 181.40 L695.00 181.00 L695.21 180.61 L695.42 180.23 L695.64 179.87 L695.86 179.52 L696.09 179.18 L696.33 178.85 L696.56 178.54 L696.81 178.24 L697.05 177.95 L697.30 177.68 L697.55 177.41 L697.80 177.17 L698.05 176.93 L698.30 176.71 L698.55 176.50 L698.80 176.30 L699.05 176.12 L699.31 175.95 L699.57 175.79 L699.84 175.65 L700.11 175.52 L700.38 175.40 L700.65 175.30 L700.92 175.21 L701.19 175.13 L701.46 175.06 L701.73 175.01 L701.99 174.96 L702.25 174.93 L702.51 174.91 L702.76 174.90 L703.00 174.90 L703.24 174.92 L703.48 174.95 L703.72 175.00 L703.95 175.06 L704.19 175.14 L704.42 175.23 L704.64 175.33 L704.87 175.44 L705.09 175.56 L705.31 175.68 L705.52 175.81 L705.73 175.95 L705.93 176.08 L706.12 176.22 L706.32 176.36 L706.50 176.50 L706.67 176.64 L706.84 176.77 L706.99 176.90 L707.14 177.03 L707.27 177.16 L707.41 177.30 L707.54 177.44 L707.66 177.59 L707.79 177.75 L707.92 177.92 L708.05 178.10 L708.18 178.30 L708.32 178.52 L708.47 178.76 L708.63 179.02 L708.80 179.30 L708.98 179.60 L709.17 179.92 L709.37 180.25 L709.57 180.60 L709.78 180.96 L709.99 181.34 L710.21 181.74 L710.42 182.14 L710.64 182.57 L710.86 183.00 L711.08 183.45 L711.29 183.91 L711.50 184.39 L711.71 184.88 L711.91 185.38 L712.10 185.90 L712.29 186.44 L712.47 187.01 L712.66 187.62 L712.84 188.24 L713.02 188.89 L713.20 189.55 L713.37 190.23 L713.54 190.91 L713.71 191.59 L713.88 192.26 L714.04 192.93 L714.20 193.59 L714.36 194.23 L714.51 194.85 L714.66 195.44 L714.80 196.00 L714.94 196.53 L715.07 197.05 L715.20 197.54 L715.33 198.02 L715.45 198.48 L715.57 198.93 L715.69 199.38 L715.80 199.81 L715.91 200.24 L716.02 200.67 L716.12 201.10 L716.22 201.53 L716.32 201.96 L716.41 202.40 L716.51 202.84 L716.60 203.30 L716.69 203.76 L716.77 204.22 L716.85 204.67 L716.92 205.12 L716.99 205.57 L717.05 206.02 L717.12 206.48 L717.18 206.93 L717.24 207.39 L717.30 207.85 L717.36 208.32 L717.43 208.80 L717.49 209.29 L717.56 209.78 L717.63 210.28 L717.70 210.80 L717.78 211.33 L717.85 211.87 L717.93 212.43 L718.01 212.99 L718.09 213.56 L718.17 214.14 L718.25 214.73 L718.33 215.32 L718.41 215.91 L718.50 216.50 L718.58 217.10 L718.66 217.69 L718.75 218.28 L718.83 218.86 L718.92 219.43 L719.00 220.00 L719.08 220.56 L719.17 221.12 L719.26 221.67 L719.34 222.23 L719.43 222.78 L719.52 223.33 L719.61 223.88 L719.69 224.43 L719.78 224.97 L719.87 225.52 L719.96 226.06 L720.05 226.61 L720.14 227.16 L720.22 227.70 L720.31 228.25 L720.40 228.80" fill="none" stroke="#0000ff" stroke-width="6" stroke-dasharray="18.7 6.7" stroke-dashoffset="22.88"/>
</g>
<g stroke="#848484" stroke-width="1" fill="none">
<rect x="108.60" y="0.25" width="636.90" height="510.10"/>
<line x1="120.90" y1="510.35" x2="120.90" y2="507.75"/>
<line x1="120.90" y1="0.25" x2="120.90" y2="2.85"/>
<line x1="152.30" y1="510.35" x2="152.30" y2="505.75"/>
<line x1="152.30" y1="0.25" x2="152.30" y2="4.85"/>
<line x1="183.70" y1="510.35" x2="183.70" y2="507.75"/>
<line x1="183.70" y1="0.25" x2="183.70" y2="2.85"/>
<line x1="215.10" y1="510.35" x2="215.10" y2="507.75"/>
<line x1="215.10" y1="0.25" x2="215.10" y2="2.85"/>
<line x1="246.50" y1="510.35" x2="246.50" y2="507.75"/>
<line x1="246.50" y1="0.25" x2="246.50" y2="2.85"/>
<line x1="277.90" y1="510.35" x2="277.90" y2="507.75"/>
<line x1="277.90" y1="0.25" x2="277.90" y2="2.85"/>
<line x1="309.30" y1="510.35" x2="309.30" y2="505.75"/>
<line x1="309.30" y1="0.25" x2="309.30" y2="4.85"/>
<line x1="340.70" y1="510.35" x2="340.70" y2="507.75"/>
<line x1="340.70" y1="0.25" x2="340.70" y2="2.85"/>
<line x1="372.10" y1="510.35" x2="372.10" y2="507.75"/>
<line x1="372.10" y1="0.25" x2="372.10" y2="2.85"/>
<line x1="403.50" y1="510.35" x2="403.50" y2="507.75"/>
<line x1="403.50" y1="0.25" x2="403.50" y2="2.85"/>
<line x1="434.90" y1="510.35" x2="434.90" y2="507.75"/>
<line x1="434.90" y1="0.25" x2="434.90" y2="2.85"/>
<line x1="466.30" y1="510.35" x2="466.30" y2="505.75"/>
<line x1="466.30" y1="0.25" x2="466.30" y2="4.85"/>
<line x1="497.70" y1="510.35" x2="497.70" y2="507.75"/>
<line x1="497.70" y1="0.25" x2="497.70" y2="2.85"/>
<line x1="529.10" y1="510.35" x2="529.10" y2="507.75"/>
<line x1="529.10" y1="0.25" x2="529.10" y2="2.85"/>
<line x1="560.50" y1="510.35" x2="560.50" y2="507.75"/>
<line x1="560.50" y1="0.25" x2="560.50" y2="2.85"/>
<line x1="591.90" y1="510.35" x2="591.90" y2="507.75"/>
<line x1="591.90" y1="0.25" x2="591.90" y2="2.85"/>
<line x1="623.30" y1="510.35" x2="623.30" y2="505.75"/>
<line x1="623.30" y1="0.25" x2="623.30" y2="4.85"/>
<line x1="654.70" y1="510.35" x2="654.70" y2="507.75"/>
<line x1="654.70" y1="0.25" x2="654.70" y2="2.85"/>
<line x1="686.10" y1="510.35" x2="686.10" y2="507.75"/>
<line x1="686.10" y1="0.25" x2="686.10" y2="2.85"/>
<line x1="717.50" y1="510.35" x2="717.50" y2="507.75"/>
<line x1="717.50" y1="0.25" x2="717.50" y2="2.85"/>
<line x1="108.60" y1="500.61" x2="111.20" y2="500.61"/>
<line x1="745.50" y1="500.61" x2="742.90" y2="500.61"/>
<line x1="108.60" y1="485.31" x2="113.20" y2="485.31"/>
<line x1="745.50" y1="485.31" x2="740.90" y2="485.31"/>
<line x1="108.60" y1="470.01" x2="111.20" y2="470.01"/>
<line x1="745.50" y1="470.01" x2="742.90" y2="470.01"/>
<line x1="108.60" y1="454.72" x2="111.20" y2="454.72"/>
<line x1="745.50" y1="454.72" x2="742.90" y2="454.72"/>
<line x1="108.60" y1="439.42" x2="111.20" y2="439.42"/>
<line x1="745.50" y1="439.42" x2="742.90" y2="439.42"/>
<line x1="108.60" y1="424.12" x2="111.20" y2="424.12"/>
<line x1="745.50" y1="424.12" x2="742.90" y2="424.12"/>
<line x1="108.60" y1="408.83" x2="113.20" y2="408.83"/>
<line x1="745.50" y1="408.83" x2="740.90" y2="408.83"/>
<line x1="108.60" y1="393.53" x2="111.20" y2="393.53"/>
<line x1="745.50" y1="393.53" x2="742.90" y2="393.53"/>
<line x1="108.60" y1="378.23" x2="111.20" y2="378.23"/>
<line x1="745.50" y1="378.23" x2="742.90" y2="378.23"/>
<line x1="108.60" y1="362.93" x2="111.20" y2="362.93"/>
<line x1="745.50" y1="362.93" x2="742.90" y2="362.93"/>
<line x1="108.60" y1="347.64" x2="111.20" y2="347.64"/>
<line x1="745.50" y1="347.64" x2="742.90" y2="347.64"/>
<line x1="108.60" y1="332.34" x2="113.20" y2="332.34"/>
<line x1="745.50" y1="332.34" x2="740.90" y2="332.34"/>
<line x1="108.60" y1="317.04" x2="111.20" y2="317.04"/>
<line x1="745.50" y1="317.04" x2="742.90" y2="317.04"/>
<line x1="108.60" y1="301.75" x2="111.20" y2="301.75"/>
<line x1="745.50" y1="301.75" x2="742.90" y2="301.75"/>
<line x1="108.60" y1="286.45" x2="111.20" y2="286.45"/>
<line x1="745.50" y1="286.45" x2="742.90" y2="286.45"/>
<line x1="108.60" y1="271.15" x2="111.20" y2="271.15"/>
<line x1="745.50" y1="271.15" x2="742.90" y2="271.15"/>
<line x1="108.60" y1="255.86" x2="113.20" y2="255.86"/>
<line x1="745.50" y1="255.86" x2="740.90" y2="255.86"/>
<line x1="108.60" y1="240.56" x2="111.20" y2="240.56"/>
<line x1="745.50" y1="240.56" x2="742.90" y2="240.56"/>
<line x1="108.60" y1="225.26" x2="111.20" y2="225.26"/>
<line x1="745.50" y1="225.26" x2="742.90" y2="225.26"/>
<line x1="108.60" y1="209.96" x2="111.20" y2="209.96"/>
<line x1="745.50" y1="209.96" x2="742.90" y2="209.96"/>
<line x1="108.60" y1="194.67" x2="111.20" y2="194.67"/>
<line x1="745.50" y1="194.67" x2="742.90" y2="194.67"/>
<line x1="108.60" y1="179.37" x2="113.20" y2="179.37"/>
<line x1="745.50" y1="179.37" x2="740.90" y2="179.37"/>
<line x1="108.60" y1="164.07" x2="111.20" y2="164.07"/>
<line x1="745.50" y1="164.07" x2="742.90" y2="164.07"/>
<line x1="108.60" y1="148.78" x2="111.20" y2="148.78"/>
<line x1="745.50" y1="148.78" x2="742.90" y2="148.78"/>
<line x1="108.60" y1="133.48" x2="111.20" y2="133.48"/>
<line x1="745.50" y1="133.48" x2="742.90" y2="133.48"/>
<line x1="108.60" y1="118.18" x2="111.20" y2="118.18"/>
<line x1="745.50" y1="118.18" x2="742.90" y2="118.18"/>
<line x1="108.60" y1="102.89" x2="113.20" y2="102.89"/>
<line x1="745.50" y1="102.89" x2="740.90" y2="102.89"/>
<line x1="108.60" y1="87.59" x2="111.20" y2="87.59"/>
<line x1="745.50" y1="87.59" x2="742.90" y2="87.59"/>
<line x1="108.60" y1="72.29" x2="111.20" y2="72.29"/>
<line x1="745.50" y1="72.29" x2="742.90" y2="72.29"/>
<line x1="108.60" y1="56.99" x2="111.20" y2="56.99"/>
<line x1="745.50" y1="56.99" x2="742.90" y2="56.99"/>
<line x1="108.60" y1="41.70" x2="111.20" y2="41.70"/>
<line x1="745.50" y1="41.70" x2="742.90" y2="41.70"/>
<line x1="108.60" y1="26.40" x2="113.20" y2="26.40"/>
<line x1="745.50" y1="26.40" x2="740.90" y2="26.40"/>
<line x1="108.60" y1="11.10" x2="111.20" y2="11.10"/>
<line x1="745.50" y1="11.10" x2="742.90" y2="11.10"/>
</g>
<g fill="#000" stroke="#000" stroke-width="0.25">
<text x="104.5" y="495.01" text-anchor="end" font-size="27.0">0.950</text>
<text x="104.5" y="418.53" text-anchor="end" font-size="27.0">0.955</text>
<text x="104.5" y="342.04" text-anchor="end" font-size="27.0">0.960</text>
<text x="104.5" y="265.56" text-anchor="end" font-size="27.0">0.965</text>
<text x="104.5" y="189.07" text-anchor="end" font-size="27.0">0.970</text>
<text x="104.5" y="112.59" text-anchor="end" font-size="27.0">0.975</text>
<text x="104.5" y="36.10" text-anchor="end" font-size="27.0">0.980</text>
<text x="152.30" y="540.6" text-anchor="middle" font-size="27.4">−<tspan dx="1.6" dy="-1.8">5</tspan></text>
<text x="309.30" y="540.6" text-anchor="middle" font-size="27.4">−<tspan dx="1.6" dy="-1.8">4</tspan></text>
<text x="466.30" y="540.6" text-anchor="middle" font-size="27.4">−<tspan dx="1.6" dy="-1.8">3</tspan></text>
<text x="623.30" y="540.6" text-anchor="middle" font-size="27.4">−<tspan dx="1.6" dy="-1.8">2</tspan></text>
<line x1="129.9" y1="38.35" x2="168.3" y2="38.35" stroke="#00ff00" stroke-width="3.1" stroke-dasharray="10.3 3.7"/>
<text x="185.2" y="46.45" font-size="21" stroke-width="0.12"><tspan font-style="italic">δ</tspan>=<tspan dx="1.9">10</tspan><tspan font-size="15.2" dy="-8.2" dx="-0.2">−</tspan><tspan font-size="15.2" dy="-1.0" dx="-0.4">6</tspan></text>
<line x1="129.9" y1="81.65" x2="168.3" y2="81.65" stroke="#ff0000" stroke-width="3.1" stroke-dasharray="10.3 3.7"/>
<text x="185.2" y="89.75" font-size="21" stroke-width="0.12"><tspan font-style="italic">δ</tspan>=<tspan dx="1.9">10</tspan><tspan font-size="15.2" dy="-8.2" dx="-0.2">−</tspan><tspan font-size="15.2" dy="-1.0" dx="-0.4">5.042</tspan></text>
<line x1="129.9" y1="124.95" x2="168.3" y2="124.95" stroke="#000000" stroke-width="3.1" stroke-dasharray="10.3 3.7"/>
<text x="185.2" y="133.05" font-size="21" stroke-width="0.12"><tspan font-style="italic">δ</tspan>=<tspan dx="1.9">10</tspan><tspan font-size="15.2" dy="-8.2" dx="-0.2">−</tspan><tspan font-size="15.2" dy="-1.0" dx="-0.4">4.509</tspan></text>
<line x1="129.9" y1="168.25" x2="168.3" y2="168.25" stroke="#0000ff" stroke-width="3.1" stroke-dasharray="10.3 3.7"/>
<text x="185.2" y="176.35" font-size="21" stroke-width="0.12"><tspan font-style="italic">δ</tspan>=<tspan dx="1.9">10</tspan><tspan font-size="15.2" dy="-8.2" dx="-0.2">−</tspan><tspan font-size="15.2" dy="-1.0" dx="-0.4">3.998</tspan></text>
<text x="25.1" y="268.2" font-size="27.4" transform="rotate(-90 25.1 268.2)"><tspan font-style="italic">n</tspan><tspan font-size="19.5" dy="5" font-style="italic">s</tspan></text>
<text x="400.9" y="577.6" font-size="27.1">log<tspan font-style="italic" dx="1.0">λ</tspan></text>
<path d="M442.5 554.5C443.3 552.7 444.6 552.4 446 553.2C447.6 554.2 449.4 554.6 450.7 552.4" fill="none" stroke="#000" stroke-width="1.9" stroke-linecap="round"/>
</g>
</svg>
</body></html>
